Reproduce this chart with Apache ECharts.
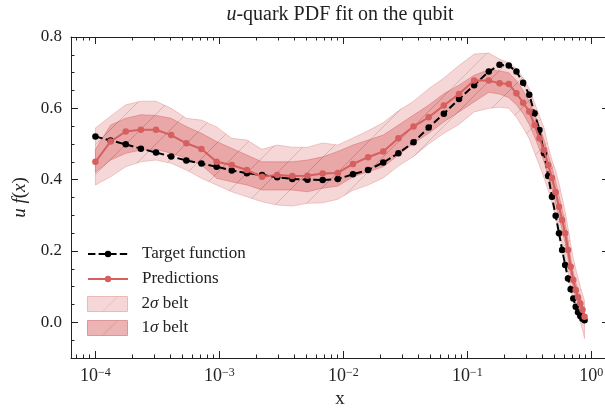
<!DOCTYPE html>
<html>
<head>
<meta charset="utf-8">
<script src="https://cdn.jsdelivr.net/npm/echarts@6/dist/echarts.min.js"></script>
<style>
  html, body { margin: 0; padding: 0; background: #fff; }
  #chart { width: 605px; height: 409px; }
</style>
</head>
<body>
<div id="chart"></div>
<script>
// Sampling grid in x (log-spaced part, then linear part)
const xValues = [
  1.000e-4, 1.325e-4, 1.756e-4, 2.326e-4, 3.082e-4, 4.083e-4, 5.410e-4, 7.168e-4,
  9.497e-4, 1.258e-3, 1.667e-3, 2.209e-3, 2.926e-3, 3.877e-3, 5.137e-3, 6.808e-3,
  9.020e-3, 1.195e-2, 1.583e-2, 2.098e-2, 2.780e-2, 3.683e-2, 4.880e-2, 6.466e-2,
  8.568e-2, 0.1135,
  0.149, 0.182, 0.216, 0.249, 0.282, 0.316, 0.349, 0.382, 0.416, 0.449, 0.482, 0.516,
  0.549, 0.582, 0.616, 0.649, 0.682, 0.716, 0.749, 0.782, 0.816, 0.849, 0.882
];

// u f(x) target values
const target = [
  0.521, 0.510, 0.499, 0.487, 0.476, 0.465, 0.454, 0.445, 0.436, 0.426, 0.418, 0.413, 0.407,
  0.402, 0.400, 0.399, 0.402, 0.415, 0.427, 0.448, 0.474, 0.505, 0.546, 0.585, 0.626, 0.665,
  0.703, 0.722, 0.720, 0.703, 0.672, 0.638, 0.586, 0.539, 0.474, 0.410, 0.352, 0.299,
  0.250, 0.203, 0.161, 0.123, 0.093, 0.067, 0.044, 0.028, 0.018, 0.010, 0.006
];

// Mean prediction of the qubit model
const predictions = [
  0.450, 0.507, 0.535, 0.540, 0.540, 0.525, 0.502, 0.486, 0.450, 0.441, 0.427, 0.408, 0.413,
  0.410, 0.411, 0.417, 0.419, 0.444, 0.463, 0.479, 0.516, 0.549, 0.575, 0.608, 0.640, 0.678,
  0.678, 0.670, 0.668, 0.642, 0.616, 0.591, 0.553, 0.516, 0.483, 0.441, 0.405, 0.365,
  0.324, 0.287, 0.250, 0.203, 0.156, 0.119, 0.091, 0.070, 0.053, 0.035, 0.016
];

// 1 sigma belt
const band1Lower = [
  0.420, 0.455, 0.474, 0.483, 0.485, 0.474, 0.460, 0.441, 0.404, 0.394, 0.385, 0.371, 0.371,
  0.371, 0.366, 0.376, 0.382, 0.408, 0.422, 0.436, 0.469, 0.502, 0.530, 0.562, 0.590, 0.618,
  0.645, 0.640, 0.630, 0.610, 0.585, 0.555, 0.520, 0.485, 0.450, 0.410, 0.375, 0.335,
  0.295, 0.258, 0.222, 0.178, 0.132, 0.097, 0.070, 0.050, 0.035, 0.018, 0.000
];
const band1Upper = [
  0.485, 0.553, 0.572, 0.582, 0.580, 0.572, 0.549, 0.530, 0.507, 0.488, 0.469, 0.450, 0.450,
  0.450, 0.455, 0.464, 0.479, 0.497, 0.511, 0.525, 0.553, 0.581, 0.609, 0.641, 0.665, 0.693,
  0.708, 0.705, 0.700, 0.678, 0.650, 0.620, 0.585, 0.548, 0.512, 0.470, 0.435, 0.395,
  0.355, 0.316, 0.278, 0.230, 0.180, 0.142, 0.112, 0.090, 0.072, 0.052, 0.032
];

// 2 sigma belt
const band2Lower = [
  0.385, 0.408, 0.436, 0.450, 0.455, 0.446, 0.427, 0.404, 0.385, 0.366, 0.352, 0.338, 0.329,
  0.326, 0.334, 0.335, 0.345, 0.370, 0.385, 0.405, 0.438, 0.465, 0.500, 0.530, 0.555, 0.590,
  0.600, 0.603, 0.600, 0.575, 0.545, 0.515, 0.475, 0.440, 0.405, 0.370, 0.335, 0.295,
  0.255, 0.220, 0.185, 0.140, 0.095, 0.062, 0.035, 0.015, 0.000, -0.020, -0.045
];
const band2Upper = [
  0.545, 0.578, 0.610, 0.620, 0.620, 0.600, 0.572, 0.567, 0.548, 0.516, 0.511, 0.485, 0.497,
  0.491, 0.491, 0.503, 0.497, 0.517, 0.537, 0.560, 0.593, 0.620, 0.655, 0.685, 0.720, 0.752,
  0.755, 0.738, 0.728, 0.712, 0.685, 0.655, 0.615, 0.578, 0.545, 0.495, 0.455, 0.425,
  0.390, 0.350, 0.310, 0.265, 0.220, 0.180, 0.150, 0.125, 0.100, 0.080, 0.060
];

// Axis ticks
const xMajorTicks = [1e-4, 1e-3, 1e-2, 1e-1, 1];
const xTickExponents = ['\u22124', '\u22123', '\u22122', '\u22121', '0'];
const yMajorTicks = [0, 0.2, 0.4, 0.6, 0.8];
const yTickLabels = ['0.0', '0.2', '0.4', '0.6', '0.8'];
const yMinorTicks = [-0.05, 0.05, 0.1, 0.15, 0.25, 0.3, 0.35, 0.45, 0.5, 0.55, 0.65, 0.7, 0.75];

const SERIF = 'Liberation Serif';
const RED = '#d65f5f';
const AXIS = '#222';
const lg = Math.log10;
const X_MIN = -4.197, X_MAX = 0.143;

const xMinorTicks = [];
for (let d = -5; d <= 0; d++) {
  for (let m = 2; m <= 9; m++) {
    const v = d + lg(m);
    if (v > X_MIN && v < X_MAX) xMinorTicks.push(v);
  }
}

// Diagonal hatch tile ("/" lines)
function hatchCanvas(lineColor, bg) {
  const s = 30;
  const c = document.createElement('canvas');
  c.width = s; c.height = s;
  const g = c.getContext('2d');
  if (bg) { g.fillStyle = bg; g.fillRect(0, 0, s, s); }
  g.strokeStyle = lineColor;
  g.lineWidth = 1;
  g.beginPath();
  g.moveTo(-1, s + 1); g.lineTo(s + 1, -1);
  g.moveTo(-1, 1); g.lineTo(1, -1);
  g.moveTo(s - 1, s + 1); g.lineTo(s + 1, s - 1);
  g.stroke();
  return c;
}

const LIGHT_FILL = 'rgba(214,95,95,0.25)';
const LIGHT_EDGE = 'rgba(214,95,95,0.30)';
const LIGHT_HATCH = 'rgba(214,95,95,0.35)';
const DARK_FILL = 'rgba(214,95,95,0.40)';
const DARK_EDGE = 'rgba(214,95,95,0.45)';
const DARK_HATCH = 'rgba(214,95,95,0.35)';

const hatchLight = hatchCanvas(LIGHT_HATCH);
const hatchDark = hatchCanvas(DARK_HATCH);
const legendLight = hatchCanvas('rgb(236,190,190)', 'rgb(245,215,215)');
const legendDark = hatchCanvas('rgb(222,150,150)', 'rgb(236,180,180)');

function bandRenderer(lower, upper, fill, edge, hatch) {
  return function (params, api) {
    if (params.dataIndex !== 0) return null;
    const top = xValues.map((x, i) => api.coord([lg(x), upper[i]]));
    const bottom = xValues.map((x, i) => api.coord([lg(x), lower[i]])).reverse();
    const pts = top.concat(bottom);
    return {
      type: 'group',
      children: [
        { type: 'polygon', shape: { points: pts }, style: { fill: fill, stroke: edge, lineWidth: 1 } },
        { type: 'polygon', shape: { points: pts }, style: { fill: { image: hatch, repeat: 'repeat' }, stroke: null } }
      ]
    };
  };
}

function hiddenX(pos) {
  return {
    type: 'value', min: X_MIN, max: X_MAX, position: pos, offset: 0,
    splitLine: { show: false }, axisLine: { show: false, onZero: false },
    axisLabel: { show: false }, axisTick: { show: false }
  };
}
function hiddenY(pos) {
  return {
    type: 'value', min: -0.1, max: 0.8, position: pos, offset: 0,
    splitLine: { show: false }, axisLine: { show: false, onZero: false },
    axisLabel: { show: false }, axisTick: { show: false }
  };
}
function ticks(values, len) {
  return { show: true, inside: true, length: len, customValues: values, lineStyle: { color: AXIS, width: 1 } };
}
const shownLine = { show: true, onZero: false, lineStyle: { color: AXIS, width: 1 } };

const xMajorLog = xMajorTicks.map(lg);

const xBottom = Object.assign(hiddenX('bottom'), {
  axisLine: shownLine,
  axisTick: ticks(xMajorLog, 7),
  axisLabel: {
    show: true, customValues: xMajorLog, margin: 9,
    formatter: function (v) {
      const i = xMajorLog.findIndex(t => Math.abs(t - v) < 1e-6);
      return '{b|10}{s|' + xTickExponents[i] + '}';
    },
    rich: {
      b: { fontFamily: SERIF, fontSize: 18, color: '#222' },
      s: { fontFamily: SERIF, fontSize: 12, color: '#222', verticalAlign: 'top', padding: [0, 0, 6, 0] }
    }
  },
  name: 'x', nameLocation: 'middle', nameGap: 32,
  nameTextStyle: { fontFamily: SERIF, fontSize: 19, color: '#222' }
});
const xBottomMinor = Object.assign(hiddenX('bottom'), { axisTick: ticks(xMinorTicks, 3.5) });
const xTop = Object.assign(hiddenX('top'), { axisLine: shownLine, axisTick: ticks(xMajorLog, 7) });
const xTopMinor = Object.assign(hiddenX('top'), { axisTick: ticks(xMinorTicks, 3.5) });

const yLeft = Object.assign(hiddenY('left'), {
  axisLine: shownLine,
  axisTick: ticks(yMajorTicks, 7),
  axisLabel: {
    show: true, customValues: yMajorTicks, margin: 9,
    fontFamily: SERIF, fontSize: 17, color: '#222',
    formatter: function (v) {
      const i = yMajorTicks.findIndex(t => Math.abs(t - v) < 1e-9);
      return yTickLabels[i];
    }
  },
  name: '{i|u f}{n|(}{i|x}{n|)}', nameLocation: 'middle', nameGap: 39,
  nameTextStyle: {
    rich: {
      i: { fontFamily: SERIF, fontSize: 19, fontStyle: 'italic', color: '#222' },
      n: { fontFamily: SERIF, fontSize: 19, color: '#222' }
    }
  }
});
const yLeftMinor = Object.assign(hiddenY('left'), { axisTick: ticks(yMinorTicks, 3.5) });
const yRight = Object.assign(hiddenY('right'), { axisLine: shownLine, axisTick: ticks(yMajorTicks, 7) });
const yRightMinor = Object.assign(hiddenY('right'), { axisTick: ticks(yMinorTicks, 3.5) });

const legendText = {
  fontFamily: SERIF, fontSize: 17, color: '#222', lineHeight: 18, padding: [0, 0, 0, 9],
  rich: {
    m: { fontFamily: SERIF, fontSize: 17, fontStyle: 'italic', color: '#222' },
    t: { fontFamily: SERIF, fontSize: 17, color: '#222' }
  }
};

const chart = echarts.init(document.getElementById('chart'), null, { renderer: 'canvas' });
chart.setOption({
  animation: false,
  backgroundColor: '#fff',
  title: {
    text: '{i|u}{t|-quark PDF fit on the qubit}',
    left: 340, top: 5, textAlign: 'center', padding: 0,
    textStyle: {
      fontWeight: 'normal',
      rich: {
        i: { fontFamily: SERIF, fontSize: 20, fontStyle: 'italic', fontWeight: 'normal', color: '#222' },
        t: { fontFamily: SERIF, fontSize: 20, fontWeight: 'normal', color: '#222' }
      }
    }
  },
  grid: { left: 71, top: 37, width: 538, height: 321, containLabel: false, outerBoundsMode: 'none' },
  xAxis: [xBottom, xBottomMinor, xTop, xTopMinor],
  yAxis: [yLeft, yLeftMinor, yRight, yRightMinor],
  legend: [
    {
      orient: 'vertical', left: 87, top: 245, itemWidth: 40, itemHeight: 8, itemGap: 7,
      padding: 0, textStyle: legendText,
      data: ['Target function', 'Predictions']
    },
    {
      orient: 'vertical', left: 87, top: 295, itemWidth: 40, itemHeight: 15, itemGap: 6,
      padding: 0, textStyle: legendText,
      formatter: function (name) { return '{t|' + name.replace('\u03c3', '}{m|\u03c3}{t|') + '}'; },
      data: [
        { name: '2\u03c3 belt', icon: 'rect', itemStyle: { color: { image: legendLight, repeat: 'repeat' }, borderColor: 'rgb(236,185,185)', borderWidth: 1 } },
        { name: '1\u03c3 belt', icon: 'rect', itemStyle: { color: { image: legendDark, repeat: 'repeat' }, borderColor: 'rgb(222,150,150)', borderWidth: 1 } }
      ]
    }
  ],
  series: [
    {
      name: '2\u03c3 belt', type: 'custom', xAxisIndex: 0, yAxisIndex: 0, z: 1,
      itemStyle: { color: LIGHT_FILL },
      renderItem: bandRenderer(band2Lower, band2Upper, LIGHT_FILL, LIGHT_EDGE, hatchLight),
      encode: { x: 0, y: [1, 2] },
      data: xValues.map((x, i) => [lg(x), band2Lower[i], band2Upper[i]])
    },
    {
      name: '1\u03c3 belt', type: 'custom', xAxisIndex: 0, yAxisIndex: 0, z: 2,
      itemStyle: { color: DARK_FILL },
      renderItem: bandRenderer(band1Lower, band1Upper, DARK_FILL, DARK_EDGE, hatchDark),
      encode: { x: 0, y: [1, 2] },
      data: xValues.map((x, i) => [lg(x), band1Lower[i], band1Upper[i]])
    },
    {
      name: 'Target function', type: 'line', xAxisIndex: 0, yAxisIndex: 0, z: 3,
      data: xValues.map((x, i) => [lg(x), target[i]]),
      symbol: 'circle', symbolSize: 6.5, showSymbol: true,
      itemStyle: { color: '#000' },
      lineStyle: { color: '#000', width: 2, type: [7.4, 3.2] }
    },
    {
      name: 'Predictions', type: 'line', xAxisIndex: 0, yAxisIndex: 0, z: 4,
      data: xValues.map((x, i) => [lg(x), predictions[i]]),
      symbol: 'circle', symbolSize: 6.5, showSymbol: true,
      itemStyle: { color: RED },
      lineStyle: { color: RED, width: 2 }
    }
  ]
});
</script>
</body>
</html>
